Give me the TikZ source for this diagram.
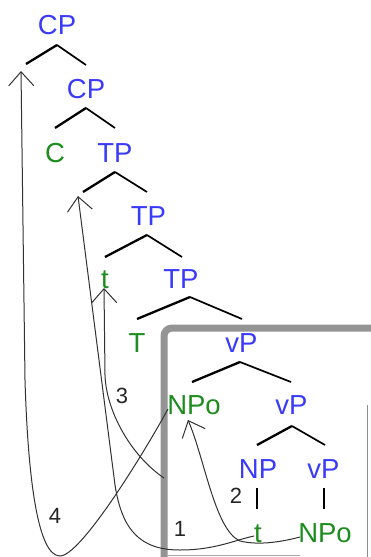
\documentclass[tikz,border=0pt]{standalone}
\usepackage{fontspec}
\setmainfont{Liberation Sans}
\usetikzlibrary{arrows.meta}
\definecolor{catblue}{RGB}{58,58,250}
\definecolor{catgreen}{RGB}{30,140,30}
\definecolor{arrowgray}{RGB}{50,50,50}
\begin{document}
\begin{tikzpicture}[x=1pt,y=-1pt,
  cat/.style={text=catblue, font=\fontsize{27.5}{30}\selectfont, inner sep=0pt, anchor=base},
  lex/.style={text=catgreen, font=\fontsize{27.5}{30}\selectfont, inner sep=0pt, anchor=base},
  num/.style={text=black!85, font=\fontsize{22}{24}\selectfont, inner sep=0pt, anchor=base},
  lbr/.style={draw=black, line width=2.3pt},
  rbr/.style={draw=black, line width=1.7pt},
  mv/.style={draw=arrowgray, line width=1pt, {Straight Barb[length=14pt,width=25pt]}-},
  boxline/.style={draw=black!42, line width=7pt, rounded corners=8pt}]
\useasboundingbox (0,0) rectangle (371,557);
\clip (0,0) rectangle (371,557);
\fill[white] (0,0) rectangle (371,557);

% box
\draw[boxline] (164,575) -- (164,328) -- (390,328);
\draw[black!45, line width=1pt] (367,405) -- (367,557);
\draw[black!35, line width=0.8pt] (168,555) -- (300,555);

% tree nodes
\node[cat] (cp1) at (57,34) {CP};
\node[cat] (cp2) at (86,98) {CP};
\node[lex] (c) at (55,162) {C};
\node[cat] (tp1) at (115,162) {TP};
\node[cat] (tp2) at (148.5,225) {TP};
\node[lex] (tspec) at (105,288) {t};
\node[cat] (tp3) at (181,288) {TP};
\node[lex] (tt) at (137,352) {T};
\node[cat] (vp1) at (241.5,352) {vP};
\node[lex] (npo1) at (194,414) {NPo};
\node[cat] (vp2) at (291.5,414) {vP};
\node[cat] (np) at (258,478) {NP};
\node[cat] (vp3) at (323.5,478) {vP};
\node[lex] (tb) at (258,542) {t};
\node[lex] (npo2) at (325,542) {NPo};

% branch points
\coordinate (cp1a) at (57,45);   \coordinate (cp1l) at (26,64);   \coordinate (cp1r) at (86,65);
\coordinate (cp2a) at (86,108);  \coordinate (cp2l) at (55,128);  \coordinate (cp2r) at (115,128);
\coordinate (tp1a) at (115,172); \coordinate (tp1l) at (83,192);  \coordinate (tp1r) at (147,192);
\coordinate (tp2a) at (147,235); \coordinate (tp2l) at (105,257); \coordinate (tp2r) at (182,257);
\coordinate (tp3a) at (190,297); \coordinate (tp3l) at (137,319); \coordinate (tp3r) at (242,319);
\coordinate (vp1a) at (240,362); \coordinate (vp1l) at (192,382); \coordinate (vp1r) at (291,382);
\coordinate (vp2a) at (292,426); \coordinate (vp2l) at (257,445); \coordinate (vp2r) at (325,445);
\coordinate (npt) at (257,488);  \coordinate (npb) at (257,509);
\coordinate (vpt) at (324,488);  \coordinate (vpb) at (324,509);

\draw[lbr] (cp1a) -- (cp1l); \draw[rbr] (cp1a) -- (cp1r);
\draw[lbr] (cp2a) -- (cp2l); \draw[rbr] (cp2a) -- (cp2r);
\draw[lbr] (tp1a) -- (tp1l); \draw[rbr] (tp1a) -- (tp1r);
\draw[lbr] (tp2a) -- (tp2l); \draw[rbr] (tp2a) -- (tp2r);
\draw[lbr] (tp3a) -- (tp3l); \draw[rbr] (tp3a) -- (tp3r);
\draw[lbr] (vp1a) -- (vp1l); \draw[rbr] (vp1a) -- (vp1r);
\draw[lbr] (vp2a) -- (vp2l); \draw[rbr] (vp2a) -- (vp2r);
\draw[black, line width=1.3pt] (npt) -- (npb);
\draw[black, line width=1.3pt] (vpt) -- (vpb);

% movement arrows
\coordinate (a4tip) at (21,71);
\coordinate (a4s) at (168,409);
\draw[mv] (a4tip) -- (25,380) .. controls (28,480) and (38,556) .. (60,556)
  .. controls (80,556) and (140,460) .. (a4s);

\coordinate (a3tip) at (104,288);
\coordinate (a3s) at (164,478);
\draw[mv] (a3tip) -- (105,375) .. controls (106,410) and (130,455) .. (a3s);

\coordinate (abtip) at (78,196);
\coordinate (abs) at (254,536);
\draw[mv] (abtip) -- (115,485) .. controls (122,530) and (140,550) .. (180,550)
  .. controls (215,550) and (235,540) .. (abs);

\coordinate (a2tip) at (188,420);
\coordinate (a2s) at (300,537);
\draw[mv] (a2tip) .. controls (205,460) and (215,530) .. (240,541)
  .. controls (260,546) and (285,541) .. (a2s);

% numbers
\node[num] (n3) at (122,403) {3};
\node[num] (n4) at (55,523) {4};
\node[num] (n1) at (180,536) {1};
\node[num] (n2) at (236,503) {2};
\end{tikzpicture}
\end{document}
